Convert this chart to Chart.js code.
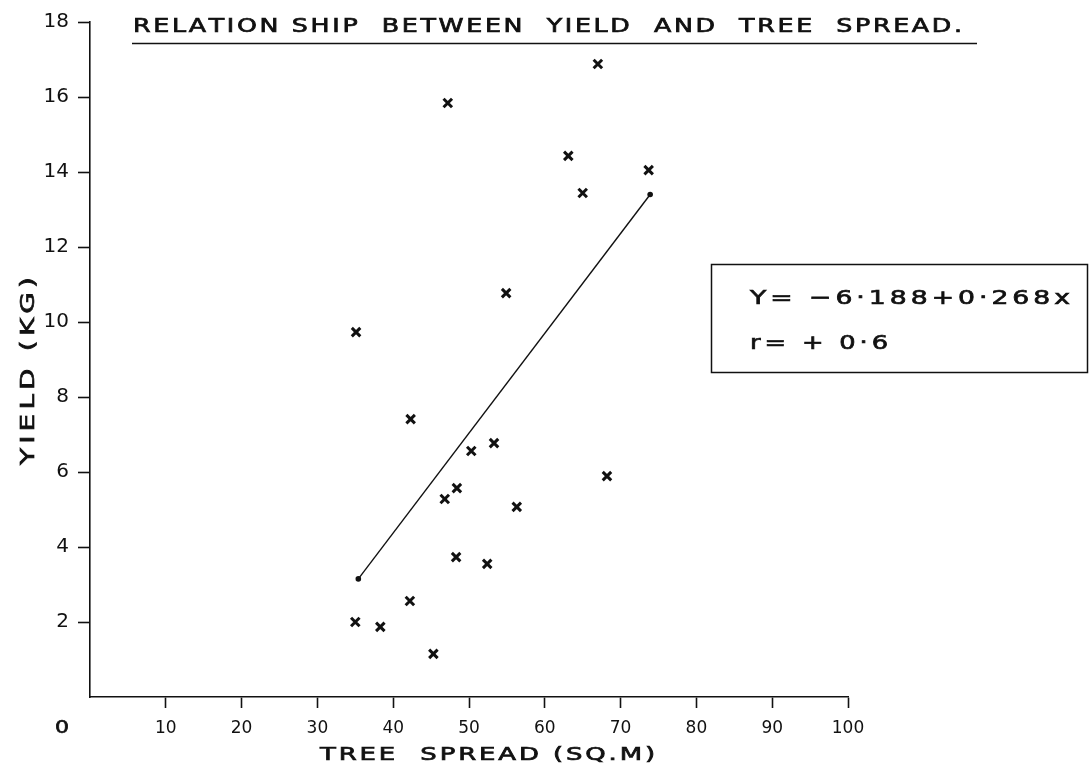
<!DOCTYPE html>
<html>
<head>
<meta charset="utf-8">
<script src="https://cdn.jsdelivr.net/npm/chart.js"></script>
<style>
  html, body { margin: 0; padding: 0; background: #fff; }
  #wrap { width: 1089px; height: 774px; }
</style>
</head>
<body>
<div id="wrap"><canvas id="chart"></canvas></div>
<script>
// --- data ---
const treeSpread = [35.1, 42.3, 50.3, 53.3, 48.4, 46.8, 56.3, 48.3, 52.4, 42.2, 35.0, 38.3, 45.3, 67.0, 47.2, 63.1, 73.7, 65.0, 54.9, 68.2];
const yieldKg    = [9.73, 7.41, 6.56, 6.77, 5.57, 5.28, 5.07, 3.73, 3.55, 2.56, 2.0, 1.87, 1.15, 16.88, 15.84, 14.43, 14.05, 13.44, 10.77, 5.89];
// end points of the fitted line as drawn
const fitX = [35.4, 73.9];
const fitY = [3.15, 13.4];
const xTickValues = [10, 20, 30, 40, 50, 60, 70, 80, 90, 100];
const yTickValues = [2, 4, 6, 8, 10, 12, 14, 16, 18];

const titleText = 'RELATION SHIP  BETWEEN  YIELD  AND  TREE  SPREAD.';
const xTitle = 'TREE  SPREAD (SQ.M)';
const yTitle = 'YIELD (KG)';
const eqText = 'Y= \u22126\u00b7188+0\u00b7268x';
const rText = 'r= + 0\u00b76';

const ink = '#111';
const fontFamily = '"DejaVu Sans", "Liberation Sans", sans-serif';

// hand lettering is wide: stretch the text horizontally so it fills the given width
function fitText(ctx, text, x, y, width, spacing) {
    const chars = [...text];
    const widths = chars.map(c => ctx.measureText(c).width);
    const natural = widths.reduce((a, b) => a + b, 0) + spacing * (chars.length - 1);
    const sx = width / natural;
    ctx.save();
    ctx.translate(x, y);
    ctx.scale(sx, 1);
    ctx.textAlign = 'left';
    ctx.lineWidth = 0.7;
    let cx = 0;
    chars.forEach((c, i) => {
        ctx.fillText(c, cx, 0);
        ctx.strokeText(c, cx, 0);
        cx += widths[i] + spacing;
    });
    ctx.restore();
}

// --- plugin for the lettering, underline and equation box ---
const annotations = {
    id: 'annotations',
    afterDraw(chart) {
        const ctx = chart.ctx;
        ctx.save();
        ctx.fillStyle = ink;
        ctx.strokeStyle = ink;
        ctx.textBaseline = 'middle';

        // title + underline
        ctx.font = '19px ' + fontFamily;
        fitText(ctx, titleText, 133, 27, 829, 2);
        ctx.lineWidth = 1.6;
        ctx.beginPath();
        ctx.moveTo(132, 43.5);
        ctx.lineTo(977, 43.5);
        ctx.stroke();

        // y axis title (rotated)
        ctx.save();
        ctx.translate(29, 371);
        ctx.rotate(-Math.PI / 2);
        ctx.font = '20px ' + fontFamily;
        fitText(ctx, yTitle, -94, 0, 188, 3);
        ctx.restore();

        // x axis title
        ctx.font = '18px ' + fontFamily;
        fitText(ctx, xTitle, 320, 755, 335, 2);

        // origin label
        ctx.font = '18px ' + fontFamily;
        fitText(ctx, '0', 55, 728, 14, 0);

        // equation box
        ctx.lineWidth = 1.5;
        ctx.strokeRect(711.5, 264.5, 376, 108);
        ctx.font = '20px ' + fontFamily;
        fitText(ctx, eqText, 750, 299, 320, 3);
        fitText(ctx, rText, 750, 344, 138, 3);

        ctx.restore();
    }
};
Chart.register(annotations);

const ctx = document.getElementById('chart');

new Chart(ctx, {
    type: 'scatter',
    data: {
        datasets: [
            {
                label: 'Yield',
                data: treeSpread.map((x, i) => ({ x: x, y: yieldKg[i] })),
                pointStyle: 'crossRot',
                pointRadius: 6,
                pointHoverRadius: 6,
                borderColor: ink,
                borderWidth: 3,
                backgroundColor: ink
            },
            {
                type: 'line',
                label: 'Regression',
                data: fitX.map((x, i) => ({ x: x, y: fitY[i] })),
                borderColor: ink,
                borderWidth: 1.4,
                pointRadius: 2.8,
                pointBackgroundColor: ink,
                pointBorderWidth: 0,
                fill: false
            }
        ]
    },
    options: {
        responsive: true,
        maintainAspectRatio: false,
        animation: false,
        layout: {
            padding: { top: 22, right: 241, bottom: 0, left: 0 }
        },
        plugins: {
            legend: { display: false },
            tooltip: { enabled: false },
            title: { display: false }
        },
        scales: {
            x: {
                type: 'linear',
                min: 0,
                max: 100,
                afterBuildTicks: (scale) => { scale.ticks = [0, ...xTickValues].map(v => ({ value: v })); },
                afterFit: (scale) => { scale.height = 77; },
                grid: {
                    drawOnChartArea: false,
                    drawTicks: true,
                    tickLength: 11,
                    tickWidth: 1.6,
                    tickColor: (c) => c.tick && c.tick.value === 0 ? 'rgba(0,0,0,0)' : ink
                },
                border: { display: true, color: ink, width: 1.6 },
                ticks: {
                    autoSkip: false,
                    maxRotation: 0,
                    padding: 10,
                    color: ink,
                    font: { family: fontFamily, size: 17 },
                    callback: (v) => v === 0 ? '' : String(v)
                }
            },
            y: {
                type: 'linear',
                min: 0,
                max: 18,
                afterBuildTicks: (scale) => { scale.ticks = [0, ...yTickValues].map(v => ({ value: v })); },
                afterFit: (scale) => { scale.width = 90; },
                grid: {
                    drawOnChartArea: false,
                    drawTicks: true,
                    tickLength: 12,
                    tickWidth: 1.6,
                    tickColor: (c) => c.tick && c.tick.value === 0 ? 'rgba(0,0,0,0)' : ink
                },
                border: { display: true, color: ink, width: 1.6 },
                ticks: {
                    padding: 9,
                    color: ink,
                    font: { family: fontFamily, size: 20 },
                    callback: (v) => v === 0 ? '' : String(v)
                }
            }
        }
    }
});
</script>
</body>
</html>
